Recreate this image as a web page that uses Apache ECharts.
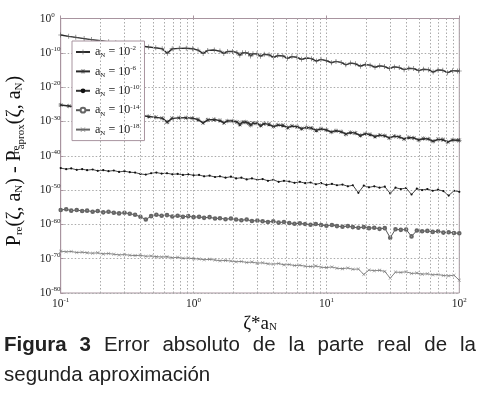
<!DOCTYPE html>
<html>
<head>
<meta charset="utf-8">
<script src="https://cdn.jsdelivr.net/npm/echarts@6/dist/echarts.min.js"></script>
<style>html,body{margin:0;padding:0;background:#fff}#c{width:478px;height:402px}</style>
</head>
<body>
<div id="c"></div>
<script>
// ---- data ----
const legendNames = ['-2', '-6', '-10', '-14', '-18'];
const xGridValues = [0.2,0.3,0.4,0.5,0.6,0.7,0.8,0.9,2,3,4,5,6,7,8,9,20,30,40,50,60,70,80,90];

// series 1 & 2 share zeta1
const zeta1 = [0.1,0.115,0.13,0.15,0.17,0.2,0.23,0.26,0.3,0.35,0.4,0.46,0.52,0.58,0.634,0.69,0.78,0.88,0.98,1.08,1.18,1.28,1.43,1.58,1.69,1.8,1.96,2.12,2.23,2.34,2.46,2.6,2.69,2.8,3.0,3.2,3.4,3.7,4.0,4.3,4.7,5.1,5.5,6.0,6.5,7.1,7.7,8.4,9.1,10,10.9,11.8,12.9,14,15.2,16.5,18,19.6,21.3,23.2,25.2,27.4,29.8,32.4,35.3,38.4,41.7,45.4,49.4,53.7,58.4,63.5,69.1,75.2,81.8,89,96.8,100];
// log10 of the absolute error
const logErr1 = [-4.8,-5.2,-5.5,-5.85,-6.15,-6.5,-6.8,-7.05,-7.35,-7.7,-8.0,-8.3,-8.55,-8.8,-10.1,-8.85,-8.7,-8.65,-8.8,-9.2,-10.2,-9.3,-9.2,-9.5,-10.2,-9.6,-9.6,-9.9,-10.7,-10.0,-9.95,-10.25,-10.9,-10.25,-10.3,-11.0,-10.4,-10.6,-11.3,-10.8,-10.9,-11.6,-11.1,-11.3,-11.9,-11.5,-11.7,-12.4,-11.9,-12.3,-12.9,-12.5,-12.8,-13.5,-13.0,-13.2,-13.9,-13.4,-13.6,-14.2,-13.8,-14.0,-14.6,-14.1,-14.3,-14.9,-14.5,-14.6,-15.2,-14.8,-14.9,-15.6,-15.0,-15.1,-15.8,-15.2,-15.3,-15.3];
const logErr2 = [-25.2,-25.5,-25.8,-26.1,-26.4,-26.75,-27.05,-27.3,-27.6,-27.95,-28.25,-28.55,-28.8,-29.05,-30.2,-29.1,-28.95,-28.9,-29.05,-29.45,-30.4,-29.55,-29.45,-29.75,-30.4,-29.85,-29.85,-30.15,-30.9,-30.25,-30.2,-30.5,-31.1,-30.5,-30.55,-31.2,-30.65,-30.85,-31.5,-31.05,-31.15,-31.8,-31.35,-31.55,-32.1,-31.75,-31.95,-32.6,-32.15,-32.5,-33.1,-32.7,-33.0,-33.7,-33.2,-33.4,-34.1,-33.6,-33.8,-34.4,-34.0,-34.2,-34.8,-34.3,-34.5,-35.1,-34.7,-34.8,-35.4,-35.0,-35.1,-35.8,-35.2,-35.3,-36.0,-35.4,-35.5,-35.5];

// series 3, 4, 5 share zeta2
const zeta2 = [0.1,0.11,0.12,0.132,0.145,0.158,0.174,0.19,0.209,0.229,0.251,0.275,0.302,0.331,0.363,0.398,0.437,0.479,0.525,0.575,0.631,0.692,0.759,0.832,0.912,1.0,1.1,1.2,1.32,1.45,1.58,1.74,1.91,2.09,2.29,2.51,2.75,3.02,3.31,3.63,3.98,4.37,4.79,5.25,5.75,6.31,6.92,7.59,8.32,9.12,10,11,12,13.2,14.5,15.8,17.4,19.1,20.9,22.9,25.1,27.5,30.2,33.1,36.3,39.8,43.7,47.9,52.5,57.5,63.1,69.2,75.9,83.2,91.2,100];
const logErr3 = [-43.6,-43.9,-43.7,-44.1,-43.9,-44.2,-44.0,-44.4,-44.2,-44.5,-44.3,-44.7,-44.5,-44.8,-44.9,-45.3,-45.5,-45.1,-44.9,-45.2,-45.1,-45.4,-45.3,-45.6,-45.4,-45.7,-45.6,-46.0,-45.8,-46.2,-46.0,-46.4,-46.1,-46.6,-46.4,-46.9,-46.6,-47.0,-46.8,-47.3,-47.0,-47.6,-47.3,-47.5,-47.9,-47.6,-48.0,-47.8,-48.3,-48.0,-48.5,-48.2,-48.6,-48.4,-48.9,-48.6,-50.8,-48.7,-49.2,-48.9,-49.3,-49.0,-51.0,-49.3,-49.7,-49.4,-51.3,-49.6,-50.0,-49.7,-50.2,-49.9,-50.3,-51.6,-50.2,-50.5];
const logErr4 = [-55.8,-55.6,-56.0,-55.8,-56.1,-56.0,-56.3,-56.1,-56.5,-56.3,-56.6,-56.8,-56.6,-56.9,-57.2,-57.8,-58.6,-57.6,-57.2,-57.5,-57.3,-57.7,-57.5,-57.8,-57.6,-57.9,-57.8,-58.1,-57.9,-58.3,-58.2,-58.5,-58.3,-58.6,-58.8,-58.6,-59.0,-58.9,-59.1,-59.3,-59.1,-59.5,-59.3,-59.6,-59.8,-59.7,-59.9,-60.1,-59.9,-60.2,-60.4,-60.2,-60.5,-60.7,-60.5,-60.8,-61.0,-60.8,-61.1,-61.0,-61.3,-61.1,-63.9,-61.4,-61.6,-61.5,-63.5,-61.8,-62.0,-61.9,-62.2,-62.0,-62.4,-62.3,-62.5,-62.6];
const logErr5 = [-67.8,-68.0,-67.9,-68.2,-68.1,-68.3,-68.4,-68.3,-68.6,-68.5,-68.7,-68.9,-68.8,-69.0,-69.1,-69.0,-69.3,-69.2,-69.4,-69.5,-69.4,-69.7,-69.6,-69.9,-69.8,-70.0,-70.1,-70.3,-70.2,-70.4,-70.6,-70.5,-70.7,-70.9,-70.8,-71.1,-71.0,-71.3,-71.2,-71.5,-71.6,-71.4,-71.8,-71.7,-72.0,-71.9,-72.2,-72.3,-72.1,-72.5,-72.6,-72.4,-72.8,-72.9,-72.7,-73.1,-73.0,-74.6,-73.3,-73.5,-73.4,-73.7,-75.7,-73.9,-74.0,-73.8,-74.3,-74.2,-74.5,-74.4,-74.7,-74.6,-74.9,-75.0,-74.8,-76.3];

// caption words (line 1 is justified)
const captionWords = ['Figura', '3', 'Error', 'absoluto', 'de', 'la', 'parte', 'real', 'de', 'la'];
const captionBold = [true, true, false, false, false, false, false, false, false, false];
const captionLine2 = 'segunda aproximación';

// ---- chart ----
const SERIF = '"Liberation Serif","DejaVu Serif",serif';
const SANS = '"Liberation Sans",Arial,sans-serif';
const frame = '#a8949f';
const pairs = (xs, ys) => xs.map((x, i) => [x, ys[i]]);
const names = legendNames.map(e => 'aN' + e);

const PLUS = 'path://M0,4.4H10V5.6H0Z M4.4,0H5.6V10H4.4Z';
const CROSS = 'path://M0.8,0L10,9.2L9.2,10L0,0.8Z M9.2,0L10,0.8L0.8,10L0,9.2Z';
const STAR = 'path://M0,4.5H10V5.5H0Z M4.5,0H5.5V10H4.5Z M1.2,0.5L9.5,8.8L8.8,9.5L0.5,1.2Z M8.8,0.5L9.5,1.2L1.2,9.5L0.5,8.8Z';

const supRich = {
  b: {fontFamily: SERIF, fontSize: 11.5, lineHeight: 14, color: '#222'},
  sup: {fontFamily: SERIF, fontSize: 7, lineHeight: 8, verticalAlign: 'top', color: '#222'}
};

// justified first caption line: measure words, spread the leftover space evenly
const capSize = 20.5, capLeft = 4, capRight = 476;
const ctx = document.createElement('canvas').getContext('2d');
const capFonts = captionBold.map(b => (b ? 'bold ' : '') + capSize + 'px ' + SANS);
const capWidths = captionWords.map((w, i) => { ctx.font = capFonts[i]; return ctx.measureText(w).width; });
const capGap = (capRight - capLeft - capWidths.reduce((a, b) => a + b, 0)) / (captionWords.length - 1);
const captionGraphics = [];
let cx = capLeft;
captionWords.forEach((w, i) => {
  captionGraphics.push({type: 'text', x: cx, y: 345, style: {text: w, font: capFonts[i], fill: '#222', verticalAlign: 'middle'}});
  cx += capWidths[i] + capGap;
});
captionGraphics.push({type: 'text', x: capLeft, y: 375.5, style: {text: captionLine2, font: capSize + 'px ' + SANS, fill: '#222', verticalAlign: 'middle'}});

const chart = echarts.init(document.getElementById('c'), null, {renderer: 'canvas'});
chart.setOption({
  animation: false,
  backgroundColor: '#fff',
  grid: {left: 60.7, top: 18.5, right: 18.7, bottom: 109, show: true, borderColor: frame, borderWidth: 1},
  xAxis: {
    type: 'log', logBase: 10, min: 0.1, max: 100,
    axisLine: {lineStyle: {color: frame}},
    axisTick: {show: true, inside: true, length: 3, lineStyle: {color: frame}},
    splitLine: {show: true, lineStyle: {color: '#aaa', type: [1.5, 2], width: 1}},
    axisLabel: {margin: 4, formatter: v => '{b|10}{sup|' + Math.round(Math.log10(v)) + '}', rich: supRich},
    name: '{b|ζ*a}{sub|N}', nameLocation: 'middle', nameGap: 9,
    nameTextStyle: {rich: {
      b: {fontFamily: SERIF, fontSize: 19, lineHeight: 19, color: '#111'},
      sub: {fontFamily: SERIF, fontSize: 11, lineHeight: 11, padding: [6, 0, 0, 0], color: '#111'}
    }}
  },
  yAxis: {
    type: 'value', min: -80, max: 0, interval: 10,
    axisLine: {lineStyle: {color: frame}},
    axisTick: {show: true, inside: true, length: 3, lineStyle: {color: frame}},
    splitLine: {show: true, lineStyle: {color: '#aaa', type: [1.5, 2], width: 1}},
    axisLabel: {margin: 21, align: 'left', formatter: v => '{b|10}{sup|' + v + '}', rich: supRich}
  },
  legend: {
    data: names, orient: 'vertical', left: 72, top: 41,
    backgroundColor: '#fff', borderColor: frame, borderWidth: 1,
    padding: [4, 5, 4, 3], itemGap: 5.4, itemWidth: 14, itemHeight: 6,
    formatter: n => '{b|a}{sub|N}{b| = 10}{sup|' + n.slice(2) + '}',
    textStyle: {rich: {
      b: {fontFamily: SERIF, fontSize: 12, lineHeight: 14, color: '#222'},
      sub: {fontFamily: SERIF, fontSize: 7, lineHeight: 7, verticalAlign: 'bottom', color: '#222'},
      sup: {fontFamily: SERIF, fontSize: 7, lineHeight: 8, verticalAlign: 'top', color: '#222'}
    }}
  },
  graphic: [
    {type: 'text', x: 15, y: 161, rotation: Math.PI / 2, style: {
      text: '{b|P}{s|re}{b|(ζ, a}{s|N}{b|) - P}{t|re}{u|aprox}{b|(ζ, a}{s|N}{b|)}',
      align: 'center', verticalAlign: 'middle',
      rich: {
        b: {fontFamily: SERIF, fontSize: 20, lineHeight: 30, fill: '#111'},
        s: {fontFamily: SERIF, fontSize: 11, lineHeight: 11, padding: [9, 0, 0, 0], fill: '#111'},
        t: {fontFamily: SERIF, fontSize: 11, lineHeight: 11, padding: [2, 0, 0, 0], width: 1, fill: '#111'},
        u: {fontFamily: SERIF, fontSize: 11, lineHeight: 11, padding: [13, 0, 0, 0], fill: '#111'}
      }
    }}
  ].concat(captionGraphics),
  series: [
    {type: 'line', name: 'grid', data: [], z: 1, silent: true,
     markLine: {silent: true, symbol: 'none', label: {show: false},
       lineStyle: {color: '#aaa', type: [1.5, 2], width: 1},
       data: xGridValues.map(v => ({xAxis: v}))}},
    {type: 'line', name: names[0], data: pairs(zeta1, logErr1), symbol: PLUS, symbolSize: 5,
     lineStyle: {color: '#2a2a2a', width: 1.4}, itemStyle: {color: '#555'}},
    {type: 'line', name: names[1], data: pairs(zeta1, logErr2), symbol: STAR, symbolSize: 4.5,
     lineStyle: {color: '#2a2a2a', width: 1.4}, itemStyle: {color: '#333'}},
    {type: 'line', name: names[2], data: pairs(zeta2, logErr3), symbol: 'circle', symbolSize: 2.2,
     lineStyle: {color: '#333', width: 0.9}, itemStyle: {color: '#111'}},
    {type: 'line', name: names[3], data: pairs(zeta2, logErr4), symbol: 'emptyCircle', symbolSize: 2.6,
     lineStyle: {color: '#555', width: 1}, itemStyle: {color: '#666', borderWidth: 0.7}},
    {type: 'line', name: names[4], data: pairs(zeta2, logErr5), symbol: CROSS, symbolSize: 3.5,
     lineStyle: {color: '#666', width: 0.8}, itemStyle: {color: '#777'}}
  ]
});
</script>
</body>
</html>
